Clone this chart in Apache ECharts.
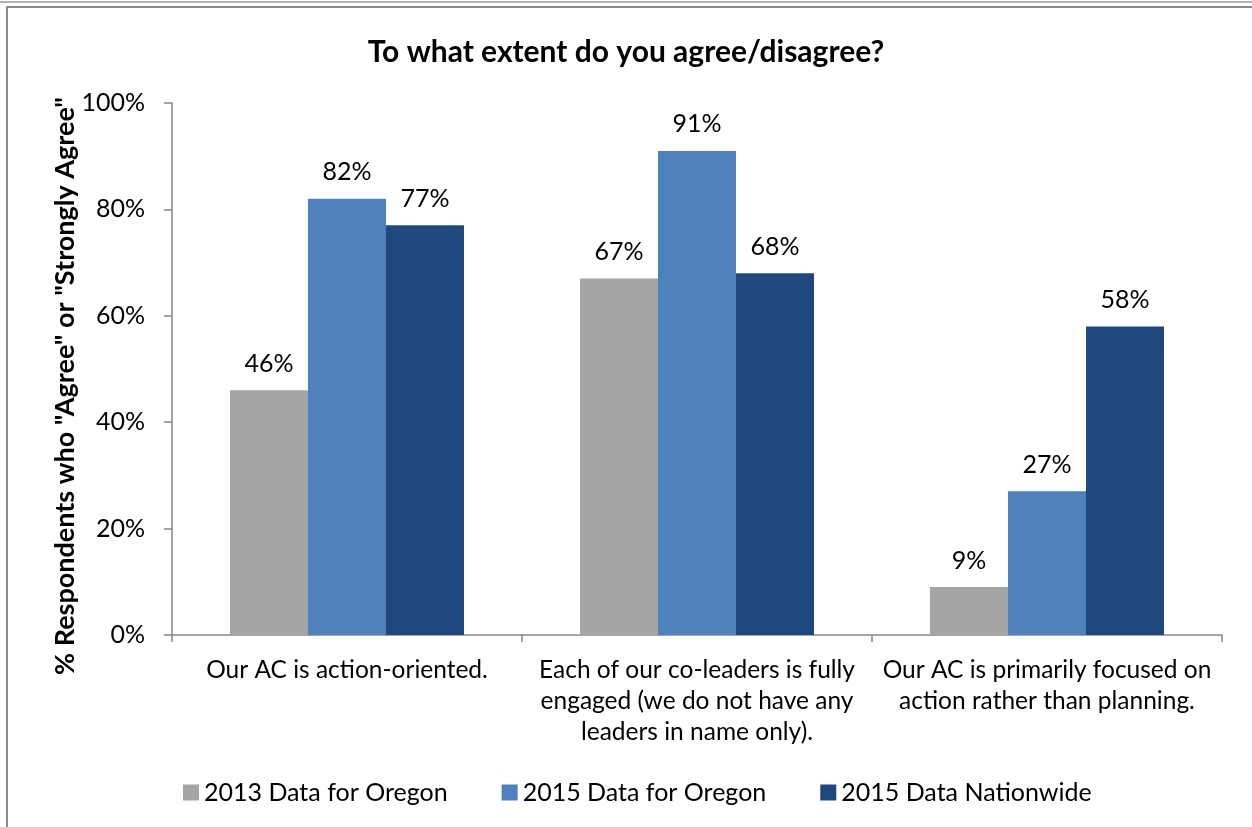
<!DOCTYPE html>
<html>
<head>
<meta charset="utf-8">
<script src="https://cdn.jsdelivr.net/npm/echarts@6/dist/echarts.min.js"></script>
<style>
  html, body { margin: 0; padding: 0; background: #fff; }
  #chart { width: 1252px; height: 827px; }
</style>
</head>
<body>
<div id="chart"></div>
<script>
// Survey statements (x categories)
const categories = [
  'Our AC is action-oriented.',
  'Each of our co-leaders is fully\nengaged (we do not have any\nleaders in name only).',
  'Our AC is primarily focused on\naction rather than planning.'
];
// Share of respondents agreeing, in percent
const oregon2013 = [46, 67, 9];
const oregon2015 = [82, 91, 27];
const nationwide2015 = [77, 68, 58];
const seriesNames = ['2013 Data for Oregon', '2015 Data for Oregon', '2015 Data Nationwide'];
const yTicks = [0, 20, 40, 60, 80, 100];

const FONT = 'Lato, "Open Sans", sans-serif';
const colors = ['#A5A5A5', '#4F81BD', '#1F497D'];

const chart = echarts.init(document.getElementById('chart'), null, { renderer: 'canvas' });

function barSeries(name, data, color) {
  return {
    name: name,
    type: 'bar',
    data: data,
    barWidth: 78,
    barGap: '0%',
    itemStyle: { color: color },
    label: {
      show: true,
      position: 'top',
      distance: 14,
      formatter: '{c}%',
      color: '#000',
      fontFamily: FONT,
      fontSize: 25
    }
  };
}

chart.setOption({
  animation: false,
  backgroundColor: '#fff',
  color: colors,
  title: {
    text: 'To what extent do you agree/disagree?',
    left: 'center',
    top: 32,
    textStyle: { fontFamily: FONT, fontWeight: 'bold', fontSize: 30, color: '#000' }
  },
  legend: {
    bottom: 17,
    left: 178,
    itemWidth: 16,
    itemHeight: 16,
    itemGap: 54,
    icon: 'rect',
    textStyle: { fontFamily: FONT, fontSize: 25, color: '#000' },
    data: seriesNames
  },
  grid: { left: 172, right: 30, top: 103, bottom: 192, containLabel: false },
  xAxis: {
    type: 'category',
    data: categories,
    axisLine: { lineStyle: { color: '#868686', width: 1.5 } },
    axisTick: { show: true, length: 7, lineStyle: { color: '#868686', width: 1.5 } },
    axisLabel: {
      interval: 0,
      margin: 20,
      color: '#000',
      fontFamily: FONT,
      fontSize: 24.5,
      lineHeight: 31,
      align: 'center'
    }
  },
  yAxis: {
    type: 'value',
    min: yTicks[0],
    max: yTicks[yTicks.length - 1],
    interval: 20,
    splitLine: { show: false },
    axisLine: { show: true, lineStyle: { color: '#868686', width: 1.5 } },
    axisTick: { show: true, length: 8, lineStyle: { color: '#868686', width: 1.5 } },
    axisLabel: {
      formatter: '{value}%',
      margin: 27,
      color: '#000',
      fontFamily: FONT,
      fontSize: 25
    }
  },
  graphic: [
    // frame lines
    { type: 'line', shape: { x1: 0, y1: 2, x2: 1252, y2: 2 }, style: { stroke: '#b4b4b4', lineWidth: 2 } },
    { type: 'line', shape: { x1: 6, y1: 7, x2: 1252, y2: 7 }, style: { stroke: '#8a8a8a', lineWidth: 2 } },
    { type: 'line', shape: { x1: 7, y1: 6, x2: 7, y2: 827 }, style: { stroke: '#8a8a8a', lineWidth: 2 } },
    // vertical axis title
    {
      type: 'text',
      x: 65,
      y: 386,
      rotation: Math.PI / 2,
      style: {
        text: '% Respondents who "Agree" or "Strongly Agree"',
        fontFamily: FONT,
        fontWeight: 'bold',
        fontSize: 27,
        fill: '#000',
        align: 'center',
        verticalAlign: 'middle'
      }
    }
  ],
  series: [
    barSeries(seriesNames[0], oregon2013, colors[0]),
    barSeries(seriesNames[1], oregon2015, colors[1]),
    barSeries(seriesNames[2], nationwide2015, colors[2])
  ]
});
</script>
</body>
</html>
